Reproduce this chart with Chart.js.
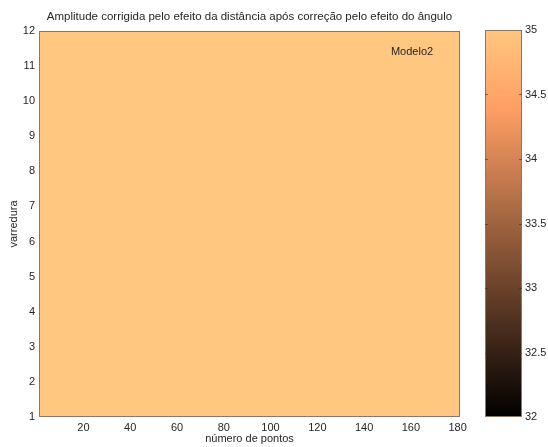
<!DOCTYPE html>
<html>
<head>
<meta charset="utf-8">
<script src="https://cdn.jsdelivr.net/npm/chart.js@4/dist/chart.umd.min.js"></script>
<style>
  html, body { margin: 0; padding: 0; background: #ffffff; }
  #wrap { position: relative; width: 548px; height: 447px; overflow: hidden; }
  #mapa { position: absolute; left: 0; top: 0; }
  #barra { position: absolute; left: 470px; top: 0; }
</style>
</head>
<body>
<div id="wrap">
  <canvas id="mapa" width="548" height="447"></canvas>
  <canvas id="barra" width="78" height="447"></canvas>
</div>
<script>
// Grid nodes of the surface: sweep lines (rows) and point index range (columns)
const varredura = [1, 2, 3, 4, 5, 6, 7, 8, 9, 10, 11, 12];
const pontoInicial = 1;
const pontoFinal = 181;
// Corrected amplitude for each band between consecutive sweeps (constant along the points)
const amplitude = [35, 35, 35, 35, 35, 35, 35, 35, 35, 35, 35];
// Tick labels
const ticksPontos = [20, 40, 60, 80, 100, 120, 140, 160, 180];
const ticksVarredura = [1, 2, 3, 4, 5, 6, 7, 8, 9, 10, 11, 12];
const ticksCor = [32, 32.5, 33, 33.5, 34, 34.5, 35];
// Colour limits of the map
const corMin = 32;
const corMax = 35;

const FONTE = "'Liberation Sans', Arial, sans-serif";
const TEXTO = '#262626';
const MOLDURA = '#8a7866';

// MATLAB-style "copper" colormap
function copper(t) {
  t = Math.max(0, Math.min(1, t));
  const r = Math.min(1, 1.25 * t), g = 0.7812 * t, b = 0.4975 * t;
  return `rgb(${Math.round(r * 255)},${Math.round(g * 255)},${Math.round(b * 255)})`;
}
const corDe = v => copper((v - corMin) / (corMax - corMin));

// Draws the box around the plotting area plus an optional text label
const moldura = {
  id: 'moldura',
  afterDatasetsDraw(chart, args, opts) {
    const { ctx, chartArea: a } = chart;
    ctx.save();
    ctx.strokeStyle = MOLDURA;
    ctx.lineWidth = 1;
    ctx.strokeRect(Math.round(a.left) + 0.5, Math.round(a.top) + 0.5,
                   Math.round(a.right - a.left) - 1, Math.round(a.bottom - a.top) - 1);
    if (opts.ticksInternos) {
      const ys = chart.scales.y;
      ctx.strokeStyle = 'rgba(60,40,25,0.55)';
      ys.ticks.forEach(t => {
        if (t.value === corMin || t.value === corMax) return;
        const py = Math.round(ys.getPixelForValue(t.value)) + 0.5;
        ctx.beginPath();
        ctx.moveTo(a.left, py); ctx.lineTo(a.left + 3, py);
        ctx.moveTo(a.right, py); ctx.lineTo(a.right - 3, py);
        ctx.stroke();
      });
    }
    if (opts.rotulo) {
      ctx.fillStyle = TEXTO;
      ctx.font = `11px ${FONTE}`;
      ctx.textAlign = 'center';
      ctx.textBaseline = 'middle';
      const px = chart.scales.x.getPixelForValue(opts.rotulo.x);
      const py = chart.scales.y.getPixelForValue(opts.rotulo.y);
      ctx.fillText(opts.rotulo.texto, px, py);
    }
    ctx.restore();
  }
};

const faixas = amplitude.map((v, i) => ({
  y: (varredura[i] + varredura[i + 1]) / 2,
  x: [pontoInicial, pontoFinal],
  v
}));

new Chart(document.getElementById('mapa'), {
  type: 'bar',
  data: {
    datasets: [{
      data: faixas,
      backgroundColor: faixas.map(f => corDe(f.v)),
      borderColor: faixas.map(f => corDe(f.v)),
      borderWidth: 1,
      borderSkipped: false,
      barPercentage: 1,
      categoryPercentage: 1
    }]
  },
  plugins: [moldura],
  options: {
    responsive: false,
    animation: false,
    indexAxis: 'y',
    layout: { padding: { left: 0, right: 88, top: 0, bottom: 0 } },
    plugins: {
      legend: { display: false },
      tooltip: { enabled: false },
      title: {
        display: true,
        fullSize: false,
        text: 'Amplitude corrigida pelo efeito da distância após correção pelo efeito do ângulo',
        color: TEXTO,
        font: { family: FONTE, size: 11.5, weight: 'normal' },
        padding: { top: 10, bottom: 7.2 }
      },
      moldura: { rotulo: { x: 160.5, y: 11.4, texto: 'Modelo2' } }
    },
    scales: {
      x: {
        type: 'linear',
        min: pontoInicial,
        max: pontoFinal,
        offset: false,
        grid: { display: false, drawTicks: false },
        border: { display: false },
        afterBuildTicks: s => { s.ticks = ticksPontos.map(v => ({ value: v })); },
        afterFit: s => { s.height = 30; },
        ticks: { color: TEXTO, font: { family: FONTE, size: 11 }, padding: 4, maxRotation: 0, autoSkip: false },
        title: { display: true, text: 'número de pontos', color: TEXTO,
                 font: { family: FONTE, size: 11 }, padding: { top: 0, bottom: 1 } }
      },
      y: {
        type: 'linear',
        min: varredura[0],
        max: varredura[varredura.length - 1],
        offset: false,
        grid: { display: false, drawTicks: false, offset: false },
        border: { display: false },
        afterBuildTicks: s => { s.ticks = ticksVarredura.map(v => ({ value: v })); },
        afterFit: s => { s.width = 39; },
        ticks: { color: TEXTO, font: { family: FONTE, size: 11 }, padding: 4, autoSkip: false },
        title: { display: true, text: 'varredura', color: TEXTO,
                 font: { family: FONTE, size: 11 }, padding: { top: 7, bottom: 0 } }
      }
    }
  }
});

// Colour bar: one bar spanning the colour limits, filled with the colormap
new Chart(document.getElementById('barra'), {
  type: 'bar',
  data: {
    labels: [''],
    datasets: [{
      data: [[corMin, corMax]],
      backgroundColor: ctx => {
        const a = ctx.chart.chartArea;
        if (!a) return corDe(corMax);
        const g = ctx.chart.ctx.createLinearGradient(0, a.bottom, 0, a.top);
        g.addColorStop(0, copper(0));
        g.addColorStop(0.8, copper(0.8));
        g.addColorStop(1, copper(1));
        return g;
      },
      borderWidth: 0,
      barPercentage: 1,
      categoryPercentage: 1
    }]
  },
  plugins: [moldura],
  options: {
    responsive: false,
    animation: false,
    layout: { padding: { left: 15, right: 0, top: 30, bottom: 30 } },
    plugins: {
      legend: { display: false },
      tooltip: { enabled: false },
      moldura: { ticksInternos: true }
    },
    scales: {
      x: { display: false },
      y: {
        type: 'linear',
        position: 'right',
        min: corMin,
        max: corMax,
        grid: { display: false, drawTicks: false },
        border: { display: false },
        afterBuildTicks: s => { s.ticks = ticksCor.map(v => ({ value: v })); },
        afterFit: s => { s.width = 26; },
        ticks: { color: TEXTO, font: { family: FONTE, size: 11 }, padding: 3, autoSkip: false,
                 callback: v => String(v) }
      }
    }
  }
});
</script>
</body>
</html>
